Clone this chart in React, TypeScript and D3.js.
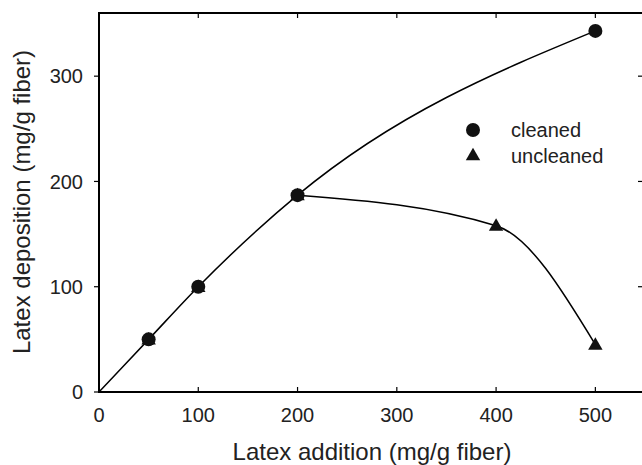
import * as d3 from 'd3'

const W = 642
const H = 465
const FONT = '"Liberation Sans", Arial, Helvetica, sans-serif'

// measured data (mg/g fiber)
const ADDITION = [50, 100, 200, 500]
const CLEANED = [50, 100, 187, 343]
const ADDITION_UNCLEANED = [50, 100, 200, 400, 500]
const UNCLEANED = [50, 100, 187, 158, 45]
const ORIGIN: [number, number] = [0, 0]
// the two fitted curves share the same path up to this addition
const SPLIT_AT = 200

const X_TICKS = [0, 100, 200, 300, 400, 500]
const Y_TICKS = [0, 100, 200, 300]

const x = d3.scaleLinear().domain([0, 550]).range([99, 645])
const y = d3.scaleLinear().domain([0, 360]).range([392, 13])

export default function App() {
  const cleanedPts: [number, number][] = [ORIGIN, ...ADDITION.map((a, i) => [a, CLEANED[i]] as [number, number])]
  const uncleanedPts: [number, number][] = ADDITION_UNCLEANED
    .map((a, i) => [a, UNCLEANED[i]] as [number, number])
    .filter(d => d[0] >= SPLIT_AT)

  const line = d3.line<[number, number]>()
    .x(d => x(d[0]))
    .y(d => y(d[1]))
    .curve(d3.curveMonotoneX)

  const tri = d3.symbol().type(d3.symbolTriangle).size(90)()

  const [x0, x1] = x.range()
  const [y0, y1] = y.range()

  return (
    <svg width={W} height={H} style={{ position: 'absolute', left: 0, top: 0, background: '#fff' }} fontFamily={FONT}>
      {/* curves */}
      <path d={line(uncleanedPts) || ''} fill="none" stroke="#000" strokeWidth={1.5} />
      <path d={line(cleanedPts) || ''} fill="none" stroke="#000" strokeWidth={1.5} />

      {/* uncleaned markers */}
      {ADDITION_UNCLEANED.map((a, i) => (
        <path key={`u${i}`} d={tri || ''} transform={`translate(${x(a)},${y(UNCLEANED[i]) + 1})`} fill="#111" />
      ))}
      {/* cleaned markers */}
      {ADDITION.map((a, i) => (
        <circle key={`c${i}`} cx={x(a)} cy={y(CLEANED[i])} r={7} fill="#111" />
      ))}

      {/* frame */}
      <line x1={x0} x2={x1} y1={y0} y2={y0} stroke="#000" strokeWidth={2.2} />
      <line x1={x0} x2={x1} y1={y1} y2={y1} stroke="#000" strokeWidth={2} />
      <line x1={x0} x2={x0} y1={y0 + 1} y2={y1 - 1} stroke="#000" strokeWidth={2} />
      <line x1={x1} x2={x1} y1={y0} y2={y1} stroke="#000" strokeWidth={2} />

      {/* x ticks */}
      {X_TICKS.map(t => (
        <g key={`xt${t}`}>
          <line x1={x(t)} x2={x(t)} y1={y0} y2={y0 - 5} stroke="#000" strokeWidth={1.2} />
          <line x1={x(t)} x2={x(t)} y1={y1} y2={y1 + 5} stroke="#000" strokeWidth={1.2} />
          <text x={x(t)} y={422} fontSize={20} textAnchor="middle" fill="#222">{t}</text>
        </g>
      ))}

      {/* y ticks */}
      {Y_TICKS.map(t => (
        <g key={`yt${t}`}>
          <line x1={x0} x2={x0 - 5} y1={y(t)} y2={y(t)} stroke="#000" strokeWidth={1.2} />
          <line x1={x1} x2={x1 - 7} y1={y(t)} y2={y(t)} stroke="#000" strokeWidth={1.2} />
          <text x={83} y={y(t)} dy="0.36em" fontSize={20} textAnchor="end" fill="#222">{t}</text>
        </g>
      ))}

      {/* axis titles */}
      <text x={372} y={460} fontSize={24} textAnchor="middle" fill="#222">Latex addition (mg/g fiber)</text>
      <text transform="translate(30,202) rotate(-90)" fontSize={24} textAnchor="middle" fill="#222">
        Latex deposition (mg/g fiber)
      </text>

      {/* legend */}
      <circle cx={473} cy={130} r={7} fill="#111" />
      <text x={511} y={137} fontSize={20} fill="#222">cleaned</text>
      <path d={tri || ''} transform="translate(473,156)" fill="#111" />
      <text x={511} y={163} fontSize={20} fill="#222">uncleaned</text>
    </svg>
  )
}
